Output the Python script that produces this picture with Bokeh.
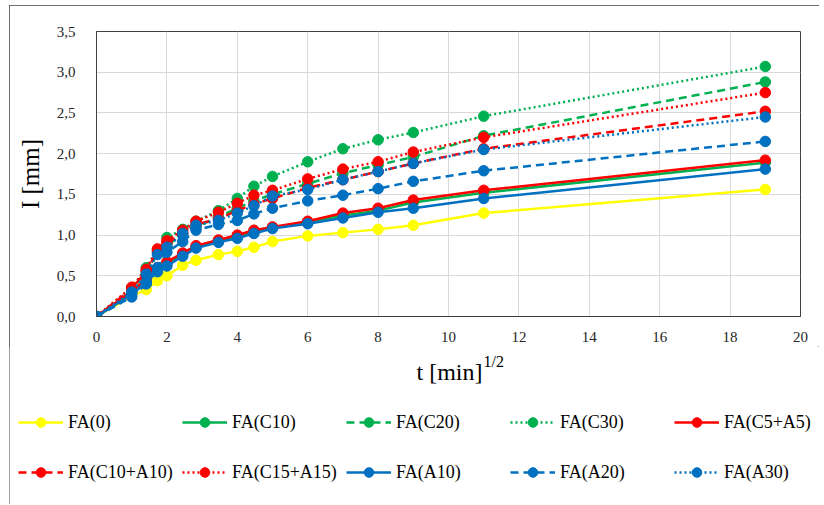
from bokeh.plotting import figure
from bokeh.layouts import column, row
from bokeh.models import Range1d, Legend, LegendItem, Label, CustomJSTickFormatter, FixedTicker
from bokeh.embed import file_html
from bokeh.resources import INLINE

# x = sqrt(t) [min^1/2]
x = [0, 1, 1.414, 1.732, 2, 2.449, 2.828, 3.464, 4, 4.472, 5, 6, 7, 8, 9, 11, 19]

fa0 = [0, 0.25, 0.33, 0.44, 0.50, 0.63, 0.69, 0.76, 0.80, 0.85, 0.92, 0.99, 1.03, 1.07, 1.12, 1.27, 1.56]
fa_c10 = [0, 0.30, 0.45, 0.58, 0.65, 0.76, 0.85, 0.93, 0.98, 1.04, 1.09, 1.16, 1.24, 1.30, 1.40, 1.52, 1.89]
fa_c20 = [0, 0.33, 0.55, 0.78, 0.88, 1.00, 1.10, 1.22, 1.33, 1.42, 1.50, 1.63, 1.76, 1.86, 1.96, 2.22, 2.88]
fa_c30 = [0, 0.35, 0.60, 0.82, 0.97, 1.07, 1.17, 1.30, 1.45, 1.60, 1.72, 1.90, 2.06, 2.17, 2.26, 2.46, 3.07]
fa_c5a5 = [0, 0.31, 0.46, 0.60, 0.67, 0.78, 0.87, 0.94, 1.00, 1.06, 1.10, 1.17, 1.27, 1.33, 1.43, 1.55, 1.92]
fa_c10a10 = [0, 0.34, 0.56, 0.80, 0.90, 1.02, 1.13, 1.20, 1.30, 1.38, 1.45, 1.58, 1.68, 1.78, 1.88, 2.06, 2.52]
fa_c15a15 = [0, 0.36, 0.58, 0.83, 0.93, 1.06, 1.17, 1.28, 1.39, 1.49, 1.55, 1.69, 1.81, 1.90, 2.02, 2.20, 2.75]
fa_a10 = [0, 0.27, 0.42, 0.55, 0.62, 0.74, 0.84, 0.91, 0.96, 1.02, 1.08, 1.14, 1.21, 1.28, 1.33, 1.45, 1.81]
fa_a20 = [0, 0.24, 0.40, 0.60, 0.79, 0.92, 1.06, 1.13, 1.18, 1.26, 1.33, 1.42, 1.49, 1.57, 1.66, 1.79, 2.15]
fa_a30 = [0, 0.30, 0.52, 0.76, 0.85, 1.02, 1.12, 1.18, 1.27, 1.36, 1.48, 1.56, 1.68, 1.78, 1.88, 2.05, 2.45]

names = ["FA(0)", "FA(C10)", "FA(C20)", "FA(C30)", "FA(C5+A5)",
         "FA(C10+A10)", "FA(C15+A15)", "FA(A10)", "FA(A20)", "FA(A30)"]
series = [fa0, fa_c10, fa_c20, fa_c30, fa_c5a5, fa_c10a10, fa_c15a15, fa_a10, fa_a20, fa_a30]

YEL, GRN, RED, BLU = "#FFFF00", "#00B050", "#FF0000", "#0070C0"
colors = [YEL, GRN, GRN, GRN, RED, RED, RED, BLU, BLU, BLU]
dashes = ["solid", "solid", "8 5", "2 3", "solid", "8 5", "2 3", "solid", "8 5", "2 3"]

FONT = "Liberation Serif"
EDGE = "#404040"

# ---- main chart ----
p = figure(width=810, height=341, output_backend="svg", toolbar_location=None,
           x_range=Range1d(0, 20), y_range=Range1d(0, 3.5),
           min_border_left=87, min_border_right=19, min_border_top=26, min_border_bottom=30)

p.xaxis.ticker = FixedTicker(ticks=list(range(0, 21, 2)))
p.yaxis.ticker = FixedTicker(ticks=[i * 0.5 for i in range(8)])
p.yaxis.formatter = CustomJSTickFormatter(code="return tick.toFixed(1).replace('.', ',');")

for ax in (p.xaxis, p.yaxis):
    ax.major_tick_out = 0
    ax.major_tick_in = 0
    ax.minor_tick_out = 0
    ax.minor_tick_in = 0
    ax.axis_line_color = EDGE
    ax.axis_line_width = 1
    ax.major_label_text_font = FONT
    ax.major_label_text_font_size = "15px"
    ax.major_label_text_color = "#262626"

p.yaxis.major_label_standoff = 21
p.xaxis.major_label_standoff = 15
p.yaxis.axis_label = "I [mm]"
p.yaxis.axis_label_text_font = FONT
p.yaxis.axis_label_text_font_style = "normal"
p.yaxis.axis_label_text_font_size = "25px"
p.yaxis.axis_label_text_color = "#000000"
p.yaxis.axis_label_standoff = 10

p.xgrid.grid_line_color = "#D9D9D9"
p.ygrid.grid_line_color = "#D9D9D9"
p.outline_line_color = EDGE
p.outline_line_width = 1

for ys, c, d in zip(series, colors, dashes):
    p.line(x, ys, line_color=c, line_width=2.5, line_dash=d)
    p.scatter(x, ys, size=10.5, fill_color=c, line_color=c)

# ---- lower panel: x-axis title and legend ----
p2 = figure(width=810, height=158, output_backend="svg", toolbar_location=None,
            x_range=Range1d(0, 810), y_range=Range1d(0, 158),
            min_border=0, x_axis_type=None, y_axis_type=None)
p2.grid.visible = False
p2.outline_line_color = None

items = []
for name, ys, c, d in zip(names, series, colors, dashes):
    r1 = p2.line(x, ys, line_color=c, line_width=2.5, line_dash=d, visible=False)
    r2 = p2.scatter(x, ys, size=10, fill_color=c, line_color=c, visible=False)
    items.append(LegendItem(label=name, renderers=[r1, r2]))

def make_legend(its, loc):
    return Legend(items=its, orientation="horizontal", location=loc,
                  glyph_width=45, glyph_height=24, label_height=24, label_standoff=5,
                  label_width=105, spacing=9, padding=0, margin=0,
                  label_text_font=FONT, label_text_font_size="18px",
                  label_text_color="#000000", inactive_fill_alpha=0,
                  background_fill_alpha=0, border_line_alpha=0)

p2.add_layout(make_legend(items[:5], (9, 70)), "center")
p2.add_layout(make_legend(items[5:], (9, 20)), "center")

p2.add_layout(Label(x=473, y=133, text="t [min]", text_align="right", text_baseline="middle",
                    text_font=FONT, text_font_size="24px", text_color="#000000"))
p2.add_layout(Label(x=474, y=143, text="1/2", text_align="left", text_baseline="middle",
                    text_font=FONT, text_font_size="16px", text_color="#000000"))

layout = column(p, row(p2), spacing=0,
                styles={"margin-left": "9px", "margin-top": "5px",
                        "outline": f"1px solid {EDGE}", "outline-offset": "-1px"})

open("out.html", "w").write(file_html(layout, INLINE))
